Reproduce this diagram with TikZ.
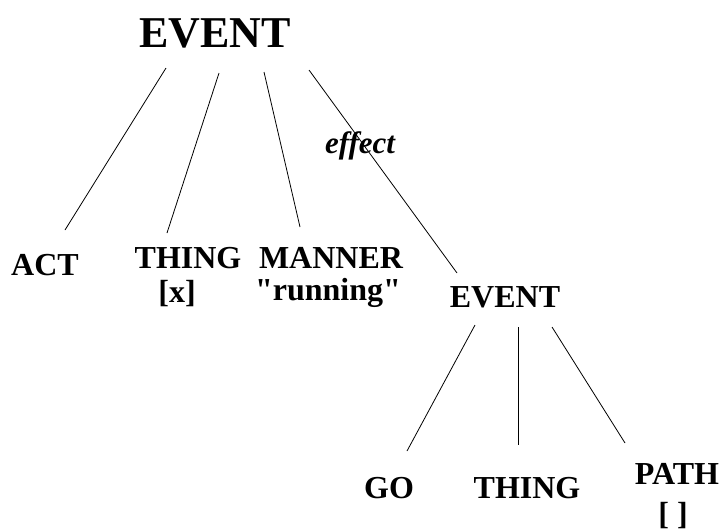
\documentclass[tikz,border=0pt]{standalone}
\usepackage{fontspec}
\setmainfont{Liberation Serif}[Ligatures=TeXOff]
\usetikzlibrary{calc}
\tikzset{
  lbl/.style={inner sep=0pt, anchor=base, font=\fontsize{32}{30}\selectfont\bfseries},
  biglbl/.style={inner sep=0pt, anchor=base, font=\fontsize{44}{44}\selectfont\bfseries},
  rel/.style={inner sep=0pt, anchor=base, font=\fontsize{31}{30}\selectfont\bfseries\itshape},
  edge/.style={draw=black, line width=0.8pt}
}
\begin{document}
\begin{tikzpicture}[x=1pt,y=-1pt]
\useasboundingbox[fill=white] (0,0) rectangle (727,531);
\node[biglbl] (top) at (215,47) {EVENT};
\node[rel] (eff) at (360,153) {effect};
\node[lbl] (act) at (45,275) {ACT};
\node[lbl] (thing) at (188,268) {THING};
\node[lbl] (thingx) at (177,302) {[x]};
\node[lbl] (manner) at (331,268) {MANNER};
\node[lbl] (run) at (328,300) {"running"};
\node[lbl] (ev2) at (505,307) {EVENT};
\node[lbl] (go) at (389,498) {GO};
\node[lbl] (thing2) at (527,498) {THING};
\node[lbl] (path) at (677,484) {PATH};
\node[lbl] (pathb) at (673,524) {[ ]};
\draw[edge] ($(top.base)+(-49,21)$) -- ($(act.base)+(20,-45)$);
\draw[edge] ($(top.base)+(4,26)$) -- ($(thing.base)+(-21,-35)$);
\draw[edge] ($(top.base)+(49,25)$) -- ($(manner.base)+(-31,-41)$);
\draw[edge] ($(top.base)+(94,23)$) -- ($(ev2.base)+(-48,-34)$);
\draw[edge] ($(ev2.base)+(-30,18)$) -- ($(go.base)+(18,-47)$);
\draw[edge] ($(ev2.base)+(13,20)$) -- ($(thing2.base)+(-9,-53)$);
\draw[edge] ($(ev2.base)+(47,20)$) -- ($(path.base)+(-52,-41)$);
\end{tikzpicture}
\end{document}
